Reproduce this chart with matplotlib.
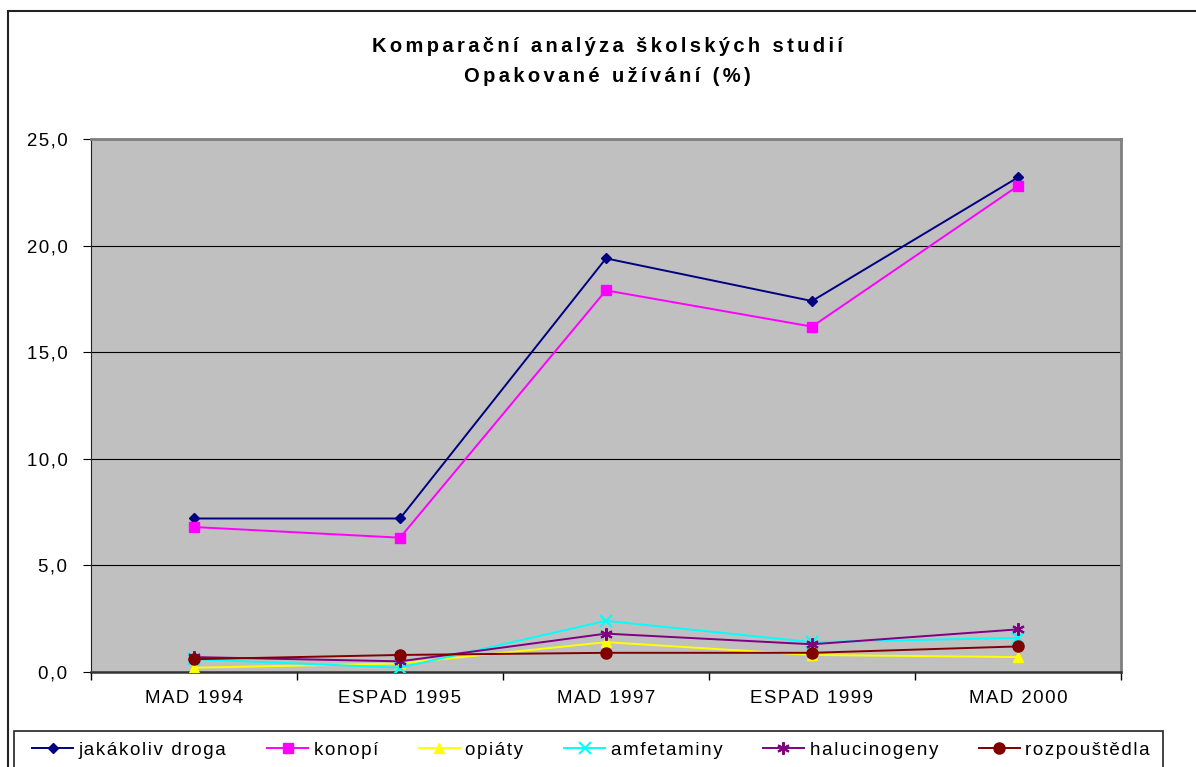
import matplotlib
matplotlib.use("Agg")
import matplotlib.pyplot as plt
from matplotlib.patches import Rectangle

plt.rcParams['font.family'] = ['Liberation Sans', 'DejaVu Sans']

# data
studies = ["MAD 1994", "ESPAD 1995", "MAD 1997", "ESPAD 1999", "MAD 2000"]
jakakoliv = [7.2, 7.2, 19.4, 17.4, 23.2]
konopi = [6.8, 6.3, 17.9, 16.2, 22.8]
opiaty = [0.2, 0.4, 1.4, 0.8, 0.7]
amfetaminy = [0.6, 0.2, 2.4, 1.4, 1.6]
halucinogeny = [0.7, 0.5, 1.8, 1.3, 2.0]
rozpoustedla = [0.6, 0.8, 0.9, 0.9, 1.2]
yticks = [0, 5, 10, 15, 20, 25]

series = [
    ("jakákoliv droga", jakakoliv, "#000080", "D", 5.5),
    ("konopí", konopi, "#FF00FF", "s", 7),
    ("opiáty", opiaty, "#FFFF00", "^", 7),
    ("amfetaminy", amfetaminy, "#00FFFF", "x", 8),
    ("halucinogeny", halucinogeny, "#800080", (6, 2, 0), 9),
    ("rozpouštědla", rozpoustedla, "#800000", "o", 8),
]


def spaced(s, sp="\u200a"):
    # the original text is letter-spaced, mimic it with narrow spaces
    return sp.join(s)


W, H = 1196, 767
fig = plt.figure(figsize=(W / 100, H / 100), dpi=100)

# outer chart frame (runs off the right and bottom edges)
fig.patches.append(Rectangle((8 / W, -0.1), 1.2, 1.1 - 11 / H,
                             transform=fig.transFigure, fill=False,
                             edgecolor="#222222", linewidth=1.5))

ax = fig.add_axes([91 / W, 1 - 672 / H, (1121 - 91) / W, (672 - 139) / H])
ax.set_facecolor("#C0C0C0")

x = list(range(len(studies)))
for name, vals, col, mk, ms in series:
    ax.plot(x, vals, color=col, marker=mk, markersize=ms, linewidth=1.4,
            markeredgewidth=1.5 if (mk == "x" or isinstance(mk, tuple)) else 1,
            label=spaced(name), zorder=3)

ax.set_xlim(-0.5, len(studies) - 0.5)
ax.set_ylim(0, 25)
ax.set_yticks(yticks)
ax.set_yticklabels([spaced(f"{v:.1f}".replace(".", ",")) for v in yticks])
ax.set_xticks(x)
ax.set_xticklabels([spaced(s) for s in studies])
ax.set_xticks([i - 0.5 for i in range(len(studies) + 1)], minor=True)
ax.tick_params(axis="x", which="major", length=0, pad=13, labelsize=13.4)
ax.tick_params(axis="x", which="minor", length=6, direction="out", width=1)
ax.tick_params(axis="y", length=6, direction="out", labelsize=13.4, pad=11)
ax.grid(axis="y", color="black", linewidth=0.8)
ax.set_axisbelow(True)
for s in ["top", "right"]:
    ax.spines[s].set_color("#808080")
    ax.spines[s].set_linewidth(2)
ax.spines["left"].set_color("#222222")
ax.spines["bottom"].set_color("#333333")
ax.spines["bottom"].set_linewidth(1.8)

fig.text(0.508, 1 - 47 / H, spaced("Komparační analýza školských studií", "\u2006"),
         ha="center", va="center", fontsize=14.5, fontweight="bold")
fig.text(0.508, 1 - 76 / H, spaced("Opakované užívání (%)", "\u2006"),
         ha="center", va="center", fontsize=14.5, fontweight="bold")

# legend box, also cut off at the bottom
fig.patches.append(Rectangle((14 / W, -0.05), (1163 - 14) / W, 0.05 + 1 - 731 / H,
                             transform=fig.transFigure, fill=True, facecolor="white",
                             edgecolor="#222222", linewidth=1.2, zorder=5))
leg = fig.legend(loc="center left", bbox_to_anchor=(32 / W, 1 - 750 / H, (1150 - 32) / W, 0),
                 mode="expand", ncol=6, fontsize=13.5, frameon=False,
                 handlelength=2.2, handletextpad=0.3, borderpad=0, borderaxespad=0,
                 columnspacing=1.0)
leg.set_zorder(6)

fig.savefig("out.png", dpi=100)
